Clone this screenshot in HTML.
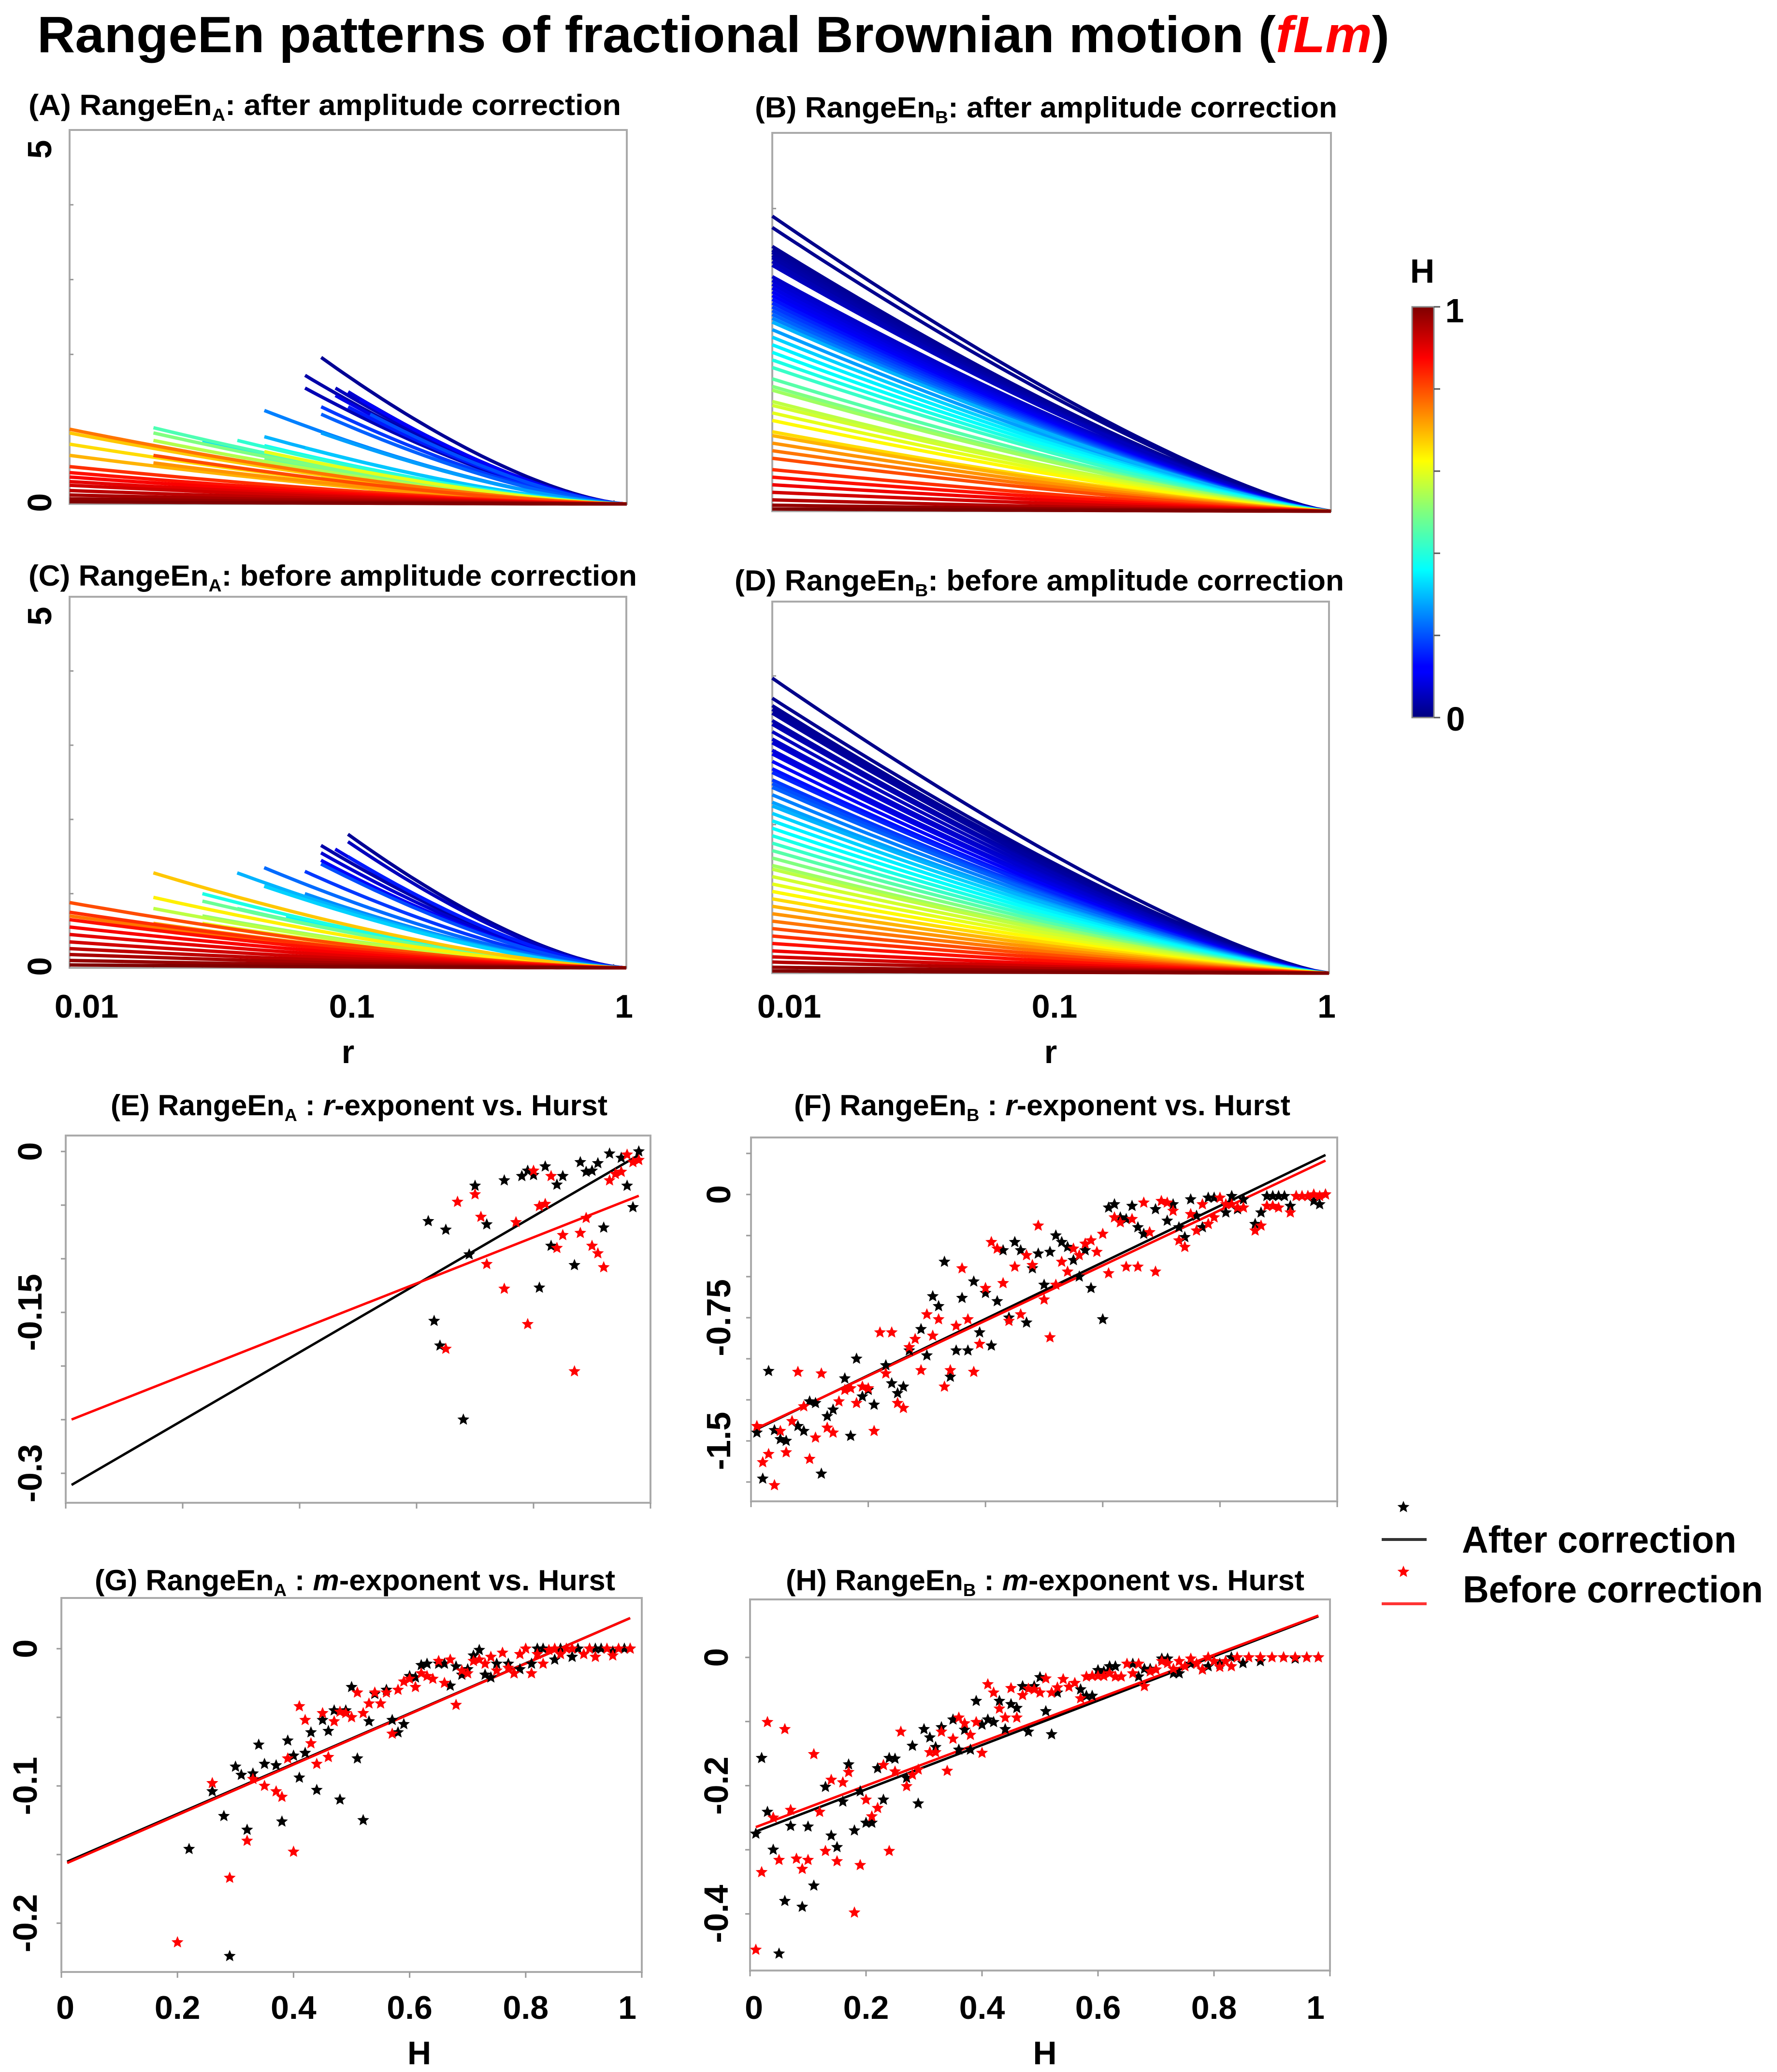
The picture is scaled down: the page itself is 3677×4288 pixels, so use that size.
<!DOCTYPE html>
<html><head><meta charset="utf-8"><style>
html,body{margin:0;padding:0;background:#fff;}
svg{display:block;}
text{font-family:"Liberation Sans",sans-serif;font-weight:bold;}
</style></head><body>
<svg id="fig" width="3677" height="4288" viewBox="0 0 3677 4288" xmlns="http://www.w3.org/2000/svg">
<rect width="3677" height="4288" fill="#fff"/>
<text x="77" y="108" font-size="106" textLength="2798" lengthAdjust="spacingAndGlyphs">RangeEn patterns of fractional Brownian motion (<tspan fill="#ff0000" font-style="italic">fLm</tspan>)</text>

<text x="59" y="238" font-size="60" textLength="1226" lengthAdjust="spacingAndGlyphs">(A) RangeEn<tspan font-size="36" dy="12">A</tspan><tspan dy="-12">:  after amplitude correction</tspan></text>
<text x="1562" y="243" font-size="60" textLength="1205" lengthAdjust="spacingAndGlyphs">(B) RangeEn<tspan font-size="36" dy="12">B</tspan><tspan dy="-12">: after amplitude correction</tspan></text>
<text x="59" y="1212" font-size="60" textLength="1259" lengthAdjust="spacingAndGlyphs">(C) RangeEn<tspan font-size="36" dy="12">A</tspan><tspan dy="-12">: before amplitude correction</tspan></text>
<text x="1520" y="1222" font-size="60" textLength="1261" lengthAdjust="spacingAndGlyphs">(D) RangeEn<tspan font-size="36" dy="12">B</tspan><tspan dy="-12">: before amplitude correction</tspan></text>
<text x="229" y="2308" font-size="60" textLength="1028" lengthAdjust="spacingAndGlyphs">(E) RangeEn<tspan font-size="36" dy="12">A</tspan><tspan dy="-12"> : </tspan><tspan font-style="italic">r</tspan><tspan>-exponent vs. Hurst</tspan></text>
<text x="1643" y="2308" font-size="60" textLength="1027" lengthAdjust="spacingAndGlyphs">(F) RangeEn<tspan font-size="36" dy="12">B</tspan><tspan dy="-12"> : </tspan><tspan font-style="italic">r</tspan><tspan>-exponent vs. Hurst</tspan></text>
<text x="196" y="3291" font-size="60" textLength="1077" lengthAdjust="spacingAndGlyphs">(G) RangeEn<tspan font-size="36" dy="12">A</tspan><tspan dy="-12"> : </tspan><tspan font-style="italic">m</tspan><tspan>-exponent vs. Hurst</tspan></text>
<text x="1626" y="3291" font-size="60" textLength="1073" lengthAdjust="spacingAndGlyphs">(H) RangeEn<tspan font-size="36" dy="12">B</tspan><tspan dy="-12"> : </tspan><tspan font-style="italic">m</tspan><tspan>-exponent vs. Hurst</tspan></text>

<defs><linearGradient id="jetgrad" x1="0" y1="1" x2="0" y2="0">
<stop offset="0" stop-color="#00007f"/><stop offset="0.11" stop-color="#0000ff"/><stop offset="0.125" stop-color="#0000ff"/>
<stop offset="0.36" stop-color="#00ffff"/><stop offset="0.5" stop-color="#7fff7f"/><stop offset="0.625" stop-color="#ffff00"/>
<stop offset="0.875" stop-color="#ff0000"/><stop offset="1" stop-color="#7f0000"/></linearGradient></defs>
<g>
<rect x="2922" y="635" width="45" height="850" fill="url(#jetgrad)" stroke="#888" stroke-width="3"/>
<text x="2943" y="585" font-size="70" text-anchor="middle">H</text>
<text x="3010" y="667" font-size="70" text-anchor="middle">1</text>
<text x="3012" y="1512" font-size="70" text-anchor="middle">0</text>
<g id="cbticks" stroke="#555" stroke-width="3"></g>
</g>

<g>
<g id="legstars"></g>
<line x1="2859" y1="3186" x2="2952" y2="3186" stroke="#333" stroke-width="6"/>
<line x1="2859" y1="3319" x2="2952" y2="3319" stroke="#ff3333" stroke-width="6"/>
<text x="3025" y="3213" font-size="78" textLength="568" lengthAdjust="spacingAndGlyphs">After correction</text>
<text x="3027" y="3316" font-size="78" textLength="621" lengthAdjust="spacingAndGlyphs">Before correction</text>
</g>
<g id="plots"></g>
</svg>
<script>
// ---------- top panels (curves): H value, start r, start value ----------
const aH  = [0.02,0.04,0.05,0.06,0.08,0.10,0.12,0.15,0.18,0.20,0.22,0.25,0.28,0.30,0.32,0.34,0.38,0.42,0.45,0.48,0.50,0.55,0.58,0.60,0.63,0.66,0.68,0.70,0.73,0.76,0.80,0.83,0.86,0.88,0.90,0.92,0.94,0.96,0.98,1.00];
const aR0 = [0.08,0.07,0.07,0.09,0.10,0.09,0.11,0.10,0.08,0.12,0.08,0.05,0.08,0.05,0.07,0.03,0.05,0.04,0.02,0.05,0.02,0.02,0.08,0.05,0.02,0.01,0.01,0.01,0.02,0.01,0.02,0.01,0.01,0.01,0.01,0.01,0.01,0.01,0.01,0.01];
const aV0 = [1.96,1.72,1.55,1.55,1.50,1.45,1.40,1.30,1.30,1.20,1.20,1.25,0.95,0.90,0.75,0.85,0.78,0.85,1.02,0.60,0.95,0.85,0.35,0.70,0.75,0.80,0.95,0.65,0.55,1.00,0.65,0.50,0.42,0.36,0.30,0.25,0.18,0.12,0.07,0.03];

const bH  = [0.01,0.015,0.02,0.025,0.03,0.035,0.04,0.05,0.06,0.07,0.08,0.09,0.10,0.11,0.12,0.14,0.16,0.18,0.20,0.22,0.25,0.28,0.30,0.33,0.36,0.38,0.40,0.43,0.46,0.50,0.53,0.56,0.58,0.60,0.63,0.66,0.70,0.73,0.76,0.80,0.83,0.86,0.89,0.92,0.95,0.98,1.00];
const bV0 = [3.90,3.75,3.50,3.45,3.42,3.38,3.35,3.30,3.25,3.10,3.05,3.00,2.95,2.90,2.85,2.80,2.75,2.70,2.65,2.60,2.55,2.40,2.50,2.30,2.20,2.10,2.00,1.90,1.75,1.65,1.60,1.45,1.40,1.30,1.20,1.05,1.00,0.90,0.80,0.70,0.55,0.45,0.35,0.25,0.15,0.08,0.03];

const cH  = [0.02,0.04,0.06,0.08,0.10,0.12,0.15,0.18,0.20,0.23,0.26,0.30,0.33,0.36,0.40,0.44,0.48,0.52,0.56,0.60,0.64,0.68,0.72,0.76,0.80,0.83,0.86,0.88,0.90,0.92,0.94,0.96,0.98,1.00];
const cR0 = [0.10,0.08,0.10,0.08,0.09,0.08,0.10,0.07,0.08,0.05,0.07,0.04,0.05,0.06,0.03,0.04,0.03,0.03,0.02,0.03,0.02,0.02,0.02,0.01,0.01,0.01,0.01,0.01,0.01,0.01,0.01,0.01,0.01,0.01];
const cV0 = [1.80,1.65,1.70,1.55,1.60,1.45,1.50,1.30,1.40,1.35,1.00,1.28,1.10,0.70,1.00,0.80,0.90,0.70,0.80,0.60,0.95,1.28,0.60,0.70,0.88,0.75,0.65,0.55,0.45,0.35,0.26,0.18,0.10,0.04];

const dH  = [0.01,0.015,0.02,0.025,0.03,0.04,0.05,0.06,0.07,0.08,0.09,0.10,0.12,0.14,0.16,0.18,0.20,0.22,0.25,0.28,0.30,0.33,0.36,0.38,0.40,0.43,0.46,0.50,0.53,0.56,0.58,0.60,0.63,0.66,0.70,0.73,0.76,0.80,0.83,0.86,0.89,0.92,0.95,0.98,1.00];
const dV0 = [3.97,3.70,3.60,3.55,3.50,3.40,3.35,3.25,3.15,3.10,3.00,2.95,2.85,2.75,2.70,2.60,2.55,2.50,2.40,2.30,2.25,2.15,2.05,1.95,1.85,1.75,1.65,1.55,1.45,1.40,1.30,1.20,1.10,1.00,0.90,0.80,0.70,0.60,0.50,0.40,0.30,0.22,0.15,0.08,0.03];

// ---------- bottom panels (scatter): H and exponent ----------
const eBlackH = [.62,.65,.63,.64,.68,.69,.70,.72,.75,.78,.79,.80,.81,.82,.83,.84,.85,.87,.88,.89,.90,.91,.92,.93,.95,.96,.97,.98];
const eBlackV = [-.065,-.073,-.158,-.181,-.25,-.096,-.032,-.068,-.027,-.023,-.018,-.022,-.127,-.014,-.088,-.031,-.023,-.106,-.01,-.019,-.018,-.011,-.071,-.002,-.006,-.032,-.052,0];
const eRedH = [.67,.70,.71,.72,.65,.75,.77,.79,.80,.81,.82,.83,.84,.85,.87,.88,.89,.90,.91,.92,.93,.94,.95,.96,.97,.98];
const eRedV = [-.047,-.040,-.061,-.105,-.184,-.128,-.066,-.161,-.018,-.051,-.049,-.023,-.09,-.078,-.205,-.076,-.062,-.088,-.095,-.108,-.027,-.021,-.019,-.003,-.01,-.008];
const eFit = {black:[0.317,-0.314], red:[0.215,-0.252]};

const fBlackH = [.01,.02,.03,.04,.05,.06,.08,.09,.10,.11,.12,.13,.14,.16,.17,.18,.19,.20,.21,.23,.24,.25,.26,.27,.29,.30,.31,.32,.33,.34,.35,.36,.37,.38,.39,.40,.41,.42,.43,.44,.45,.46,.47,.48,.49,.50,.51,.52,.53,.54,.55,.56,.57,.58,.60,.61,.62,.63,.64,.65,.66,.67,.69,.71,.72,.73,.74,.75,.76,.77,.78,.79,.81,.82,.83,.84,.86,.87,.88,.89,.90,.91,.92,.93,.95,.96,.97,.98];
const fBlackV = [-1.45,-1.73,-1.075,-1.435,-1.49,-1.50,-1.41,-1.44,-1.26,-1.27,-1.70,-1.35,-1.31,-1.12,-1.47,-1.0,-1.23,-1.19,-1.28,-1.04,-1.15,-1.21,-1.17,-.95,-.82,-.98,-.62,-.68,-.41,-1.11,-.95,-.63,-.95,-.53,-.84,-.6,-.92,-.65,-.34,-.75,-.29,-.34,-.78,-.45,-.36,-.55,-.35,-.25,-.29,-.32,-.40,-.5,-.34,-.57,-.76,-.08,-.06,-.14,-.15,-.07,-.2,-.24,-.09,-.16,-.06,-.2,-.26,-.03,-.13,-.2,-.02,-.02,-.11,-.01,-.09,-.03,-.18,-.11,-.01,-.01,-.01,-.01,-.07,-.01,-.01,-.04,-.06,0];
const fRedH = [.01,.02,.03,.04,.05,.06,.07,.08,.09,.10,.11,.12,.13,.14,.15,.16,.17,.18,.19,.20,.21,.22,.23,.24,.25,.26,.27,.28,.29,.30,.31,.32,.33,.34,.35,.36,.37,.38,.39,.40,.41,.42,.43,.44,.45,.46,.47,.48,.49,.50,.51,.52,.53,.54,.55,.56,.57,.58,.59,.60,.61,.62,.63,.64,.65,.66,.67,.68,.69,.70,.71,.72,.73,.74,.75,.76,.77,.78,.79,.80,.81,.82,.83,.84,.86,.87,.88,.89,.90,.92,.93,.94,.95,.96,.97,.98];
const fRedV = [-1.41,-1.63,-1.58,-1.77,-1.44,-1.57,-1.38,-1.08,-1.29,-1.61,-1.48,-1.09,-1.42,-1.45,-1.26,-1.19,-1.18,-1.27,-1.17,-1.18,-1.44,-.84,-1.09,-.84,-1.27,-1.30,-.93,-.88,-1.07,-.73,-.86,-.76,-1.17,-1.07,-.80,-.45,-.76,-1.08,-.91,-.57,-.29,-.33,-.54,-.77,-.44,-.73,-.37,-.43,-.19,-.64,-.87,-.55,-.41,-.47,-.33,-.37,-.30,-.28,-.35,-.24,-.48,-.14,-.17,-.44,-.15,-.44,-.05,-.23,-.47,-.04,-.05,-.10,-.28,-.32,-.12,-.22,-.06,-.18,-.14,-.02,-.06,-.06,-.08,-.08,-.22,-.19,-.07,-.07,-.08,-.11,-.01,-.01,-.01,0,-.01,0];
const fFit = {black:[1.72,-1.445], red:[1.68,-1.44]};

const gBlackH = [.22,.26,.28,.29,.30,.31,.32,.33,.34,.35,.37,.38,.39,.40,.41,.42,.43,.44,.45,.46,.47,.48,.49,.50,.51,.52,.53,.54,.56,.57,.58,.59,.60,.61,.62,.63,.65,.66,.67,.68,.69,.70,.71,.72,.73,.74,.75,.77,.78,.79,.81,.82,.83,.85,.86,.88,.89,.91,.92,.93,.95,.97,.98];
const gBlackV = [-.146,-.104,-.122,-.224,-.086,-.092,-.132,-.091,-.07,-.084,-.085,-.126,-.067,-.078,-.094,-.076,-.061,-.103,-.052,-.060,-.045,-.11,-.045,-.028,-.08,-.125,-.053,-.033,-.03,-.052,-.061,-.055,-.02,-.021,-.012,-.011,-.011,-.011,-.027,-.013,-.019,-.015,-.005,-.001,-.019,-.021,-.011,-.011,-.018,-.015,-.011,0,0,-.008,0,-.006,0,0,0,0,-.002,0,0];
const gRedH = [.20,.26,.29,.32,.33,.35,.37,.38,.39,.40,.41,.42,.43,.44,.45,.46,.47,.48,.49,.50,.51,.52,.53,.54,.55,.56,.57,.58,.59,.60,.61,.62,.63,.64,.65,.66,.67,.68,.69,.70,.71,.72,.73,.74,.75,.76,.77,.78,.79,.80,.81,.82,.83,.84,.85,.86,.87,.88,.90,.91,.92,.94,.95,.96,.98];
const gRedV = [-.214,-.098,-.167,-.140,-.095,-.10,-.104,-.108,-.08,-.148,-.042,-.052,-.069,-.084,-.047,-.079,-.053,-.046,-.047,-.05,-.032,-.047,-.04,-.032,-.04,-.032,-.062,-.03,-.024,-.022,-.028,-.018,-.02,-.022,-.009,-.025,-.008,-.041,-.016,-.018,-.009,-.008,-.011,-.006,-.016,-.003,-.014,-.018,-.004,0,-.018,-.004,-.011,-.001,0,-.004,0,0,-.004,0,-.006,0,-.005,0,0];
const gFit = {black:[0.183,-0.157], red:[0.184,-0.158]};

const hBlackH = [.01,.02,.03,.04,.05,.06,.07,.09,.10,.11,.13,.14,.15,.16,.17,.18,.19,.20,.21,.22,.23,.24,.25,.27,.28,.29,.30,.31,.32,.33,.35,.36,.37,.38,.39,.40,.41,.42,.43,.44,.45,.46,.47,.48,.49,.50,.51,.52,.53,.57,.58,.59,.60,.61,.62,.63,.66,.67,.68,.69,.71,.72,.73,.74,.76,.78,.79,.81,.83,.85,.88,.92,.94,.96,.98];
const hBlackV = [-.275,-.157,-.241,-.30,-.462,-.38,-.263,-.389,-.264,-.356,-.202,-.278,-.296,-.225,-.167,-.27,-.209,-.258,-.258,-.173,-.222,-.157,-.158,-.188,-.138,-.228,-.112,-.125,-.14,-.109,-.097,-.144,-.113,-.144,-.068,-.105,-.097,-.101,-.068,-.112,-.073,-.079,-.045,-.116,-.045,-.031,-.084,-.12,-.055,-.05,-.06,-.06,-.02,-.022,-.014,-.014,-.01,-.03,-.018,-.018,-.002,-.002,-.025,-.025,-.01,-.019,-.014,-.01,0,-.009,-.006,0,-.002,0,0];
const hRedH = [.01,.02,.03,.04,.05,.06,.07,.08,.09,.10,.11,.12,.13,.14,.15,.16,.17,.18,.19,.20,.21,.22,.23,.24,.25,.26,.27,.28,.29,.31,.32,.33,.34,.35,.36,.37,.38,.39,.40,.41,.42,.43,.44,.45,.46,.47,.48,.49,.50,.51,.52,.53,.54,.55,.56,.57,.58,.59,.60,.61,.62,.63,.64,.65,.66,.67,.68,.69,.70,.71,.72,.73,.74,.75,.76,.77,.78,.79,.80,.81,.82,.83,.84,.86,.88,.90,.92,.94,.96,.98];
const hRedV = [-.456,-.335,-.101,-.25,-.316,-.112,-.238,-.314,-.33,-.316,-.151,-.241,-.302,-.191,-.318,-.195,-.179,-.398,-.324,-.222,-.248,-.235,-.168,-.302,-.178,-.116,-.201,-.183,-.175,-.148,-.148,-.116,-.177,-.127,-.094,-.103,-.121,-.101,-.149,-.042,-.055,-.08,-.094,-.048,-.094,-.059,-.049,-.05,-.055,-.033,-.055,-.047,-.034,-.046,-.04,-.064,-.03,-.029,-.029,-.029,-.025,-.03,-.03,-.01,-.025,-.01,-.045,-.022,-.019,-.006,-.009,-.018,-.006,-.014,-.002,-.01,-.019,0,-.006,-.015,-.006,-.014,0,0,0,0,0,0,0,0];
const hFit = {black:[0.346,-0.275], red:[0.340,-0.268]};

const SVGNS = "http://www.w3.org/2000/svg";
const root = document.getElementById('plots');
function mk(tag, attrs, parent){ const e=document.createElementNS(SVGNS,tag); for(const k in attrs) e.setAttribute(k,attrs[k]); (parent||root).appendChild(e); return e; }

function jet(v){
  const r=Math.max(0,Math.min(1,1.5-Math.abs(4*v-3)));
  const g=Math.max(0,Math.min(1,1.5-Math.abs(4*v-2)));
  const b=Math.max(0,Math.min(1,1.5-Math.abs(4*v-1)));
  return `rgb(${Math.round(r*255)},${Math.round(g*255)},${Math.round(b*255)})`;
}

const cbt=document.getElementById('cbticks');
for(let i=0;i<=5;i++){ const y=635+i*170; mk('line',{x1:2967,y1:y,x2:2980,y2:y},cbt); }

function curvePanel(name, box, hs, r0s, v0s, p, yLabels, xLabels){
  const g=mk('g',{});
  
  
  const xs=r=>box.x0+(Math.log10(r)+2)/2*(box.x1-box.x0);
  const ys=v=>box.y1-v/5*(box.y1-box.y0);
  mk('rect',{x:box.x0,y:box.y0,width:box.x1-box.x0,height:box.y1-box.y0,fill:'#fff',stroke:'#aaa','stroke-width':4},g);
  for(let i=1;i<5;i++) mk('line',{x1:box.x0,y1:ys(i),x2:box.x0+8,y2:ys(i),stroke:'#999','stroke-width':3},g);
  for(let d=-2; d<0; d++) for(let k=1;k<10;k++){ const x=xs(k*Math.pow(10,d)); mk('line',{x1:x,y1:box.y1,x2:x,y2:box.y1-(k==1?14:8),stroke:'#999','stroke-width':3},g); }
  for(let i=0;i<hs.length;i++){
    const r0=r0s?r0s[i]:0.01, v0=v0s[i], L0=Math.log10(1/r0);
    let d='';
    for(let j=0;j<=40;j++){
      const lr=Math.log10(r0)+(-Math.log10(r0))*j/40; const r=Math.pow(10,lr);
      const v=v0*Math.pow(Math.log10(1/r)/L0,p);
      d+=(j?'L':'M')+xs(r).toFixed(1)+','+ys(v).toFixed(1);
    }
    const path=mk('path',{d:d,fill:'none',stroke:jet(hs[i]),'stroke-width':7},g);
    
    
  }
  if(yLabels){
    const t5=mk('text',{x:0,y:0,'font-size':70,'text-anchor':'middle','dominant-baseline':'central',transform:`translate(${box.x0-62},${ys(5)+40}) rotate(-90)`},g); t5.textContent='5';
     
    const t0=mk('text',{x:0,y:0,'font-size':70,'text-anchor':'middle','dominant-baseline':'central',transform:`translate(${box.x0-62},${ys(0)-3}) rotate(-90)`},g); t0.textContent='0';
     
  }
  if(xLabels){
    [[0.01,'0.01',35],[0.1,'0.1',8],[1,'1',-5]].forEach(([r,s,dx])=>{
      const t=mk('text',{x:xs(r)+dx,y:2106,'font-size':68,'text-anchor':'middle'},g); t.textContent=s;
       
    });
    const t=mk('text',{x:xs(0.1),y:2200,'font-size':68,'text-anchor':'middle'},g); t.textContent='r';
     
  }
}
curvePanel('panel-a', {x0:144,x1:1297,y0:269,y1:1043}, aH, aR0, aV0, 1.5, true, false);
curvePanel('panel-b', {x0:1598,x1:2754,y0:275,y1:1058}, bH, null, bV0, 1.3, false, false);
curvePanel('panel-c', {x0:144,x1:1296,y0:1235,y1:2003}, cH, cR0, cV0, 1.5, true, true);
curvePanel('panel-d', {x0:1598,x1:2750,y0:1245,y1:2014}, dH, null, dV0, 1.3, false, true);

function starPts(cx,cy,R){
  let s=''; for(let k=0;k<10;k++){ const a=-Math.PI/2+k*Math.PI/5; const r=k%2?R*0.45:R; s+=(cx+r*Math.cos(a)).toFixed(1)+','+(cy+r*Math.sin(a)).toFixed(1)+' '; } return s;
}
function scatterPanel(name, box, y0px, pxPerUnit, yTicks, yTickLabels, yLabelX, bH_, bV_, rH_, rV_, fit, xLabels){
  const g=mk('g',{});
  
  
  const xs=h=>box.x0+h*(box.x1-box.x0);
  const ys=v=>y0px-v*pxPerUnit;
  mk('rect',{x:box.x0,y:box.y0,width:box.x1-box.x0,height:box.y1-box.y0,fill:'#fff',stroke:'#aaa','stroke-width':4},g);
  yTicks.forEach(v=>mk('line',{x1:box.x0-10,y1:ys(v),x2:box.x0,y2:ys(v),stroke:'#999','stroke-width':3},g));
  for(let i=0;i<=5;i++){ const x=xs(i/5); mk('line',{x1:x,y1:box.y1,x2:x,y2:box.y1+12,stroke:'#999','stroke-width':3},g); }
  yTickLabels.forEach(([v,s])=>{
    const t=mk('text',{x:0,y:0,'font-size':70,'text-anchor':'middle','dominant-baseline':'central',transform:`translate(${yLabelX},${ys(v)}) rotate(-90)`},g);
    t.textContent=s;
     
  });
  const drawFit=(c,col)=>{ const l=mk('line',{x1:xs(0.01),y1:ys(c[1]+c[0]*0.01),x2:xs(0.98),y2:ys(c[1]+c[0]*0.98),stroke:col,'stroke-width':5},g);
      };
  drawFit(fit.black,'#000'); drawFit(fit.red,'#ff0000');
  for(let i=0;i<bH_.length;i++){ const s=mk('polygon',{points:starPts(xs(bH_[i]),ys(bV_[i]),13),fill:'#000'},g);
      }
  for(let i=0;i<rH_.length;i++){ const s=mk('polygon',{points:starPts(xs(rH_[i]),ys(rV_[i]),13),fill:'#ff0000'},g);
      }
  if(xLabels){
    ['0','0.2','0.4','0.6','0.8','1'].forEach((s,i)=>{
      const t=mk('text',{x:xs(i/5)+(i==0?8:(i==5?-30:0)),y:4178,'font-size':68,'text-anchor':'middle'},g); t.textContent=s;
       
    });
    const t=mk('text',{x:xs(0.5)+(name=='panel-g'?140:10),y:4272,'font-size':68,'text-anchor':'middle'},g); t.textContent='H';
     
  }
}
scatterPanel('panel-e',{x0:136,x1:1346,y0:2350,y1:3110},2383,2220,[0,-.05,-.1,-.15,-.2,-.25,-.3],[[0,'0'],[-.15,'-0.15'],[-.3,'-0.3']],62,eBlackH,eBlackV,eRedH,eRedV,eFit,false);
scatterPanel('panel-f',{x0:1554,x1:2767,y0:2354,y1:3107},2472,340,[.25,0,-.25,-.5,-.75,-1,-1.25,-1.5,-1.75],[[0,'0'],[-.75,'-0.75'],[-1.5,'-1.5']],1487,fBlackH,fBlackV,fRedH,fRedV,fFit,false);
scatterPanel('panel-g',{x0:127,x1:1328,y0:3307,y1:4081},3412,2840,[0,-.05,-.1,-.15,-.2],[[0,'0'],[-.1,'-0.1'],[-.2,'-0.2']],52,gBlackH,gBlackV,gRedH,gRedV,gFit,true);
scatterPanel('panel-h',{x0:1552,x1:2752,y0:3310,y1:4078},3430,1327,[0,-.1,-.2,-.3,-.4],[[0,'0'],[-.2,'-0.2'],[-.4,'-0.4']],1482,hBlackH,hBlackV,hRedH,hRedV,hFit,true);

const ls=document.getElementById('legstars');
const s1=mk('polygon',{points:starPts(2904,3119,13),fill:'#000'},ls);
 
const s2=mk('polygon',{points:starPts(2904,3253,13),fill:'#ff0000'},ls);
 
</script>
</body></html>
